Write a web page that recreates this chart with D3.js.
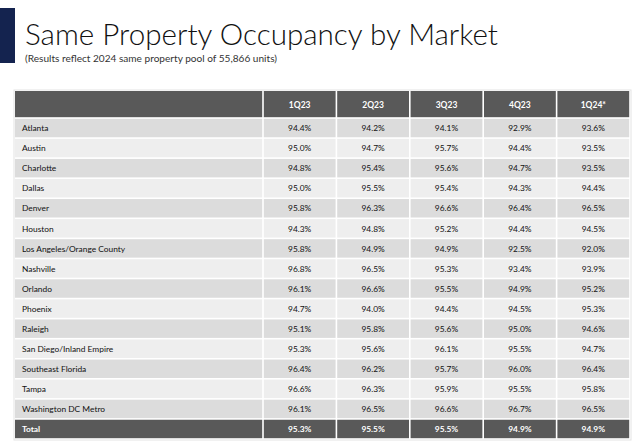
<!DOCTYPE html>
<html>
<head>
<meta charset="utf-8">
<script src="https://cdn.jsdelivr.net/npm/d3@7"></script>
<style>
  html, body { margin: 0; padding: 0; background: #fff; }
  svg { display: block; }
</style>
</head>
<body>
<svg id="chart" width="640" height="447"></svg>
<script>
const titleText = "Same Property Occupancy by Market";
const subtitleText = "(Results reflect 2024 same property pool of 55,866 units)";
const quarters = ["1Q23", "2Q23", "3Q23", "4Q23", "1Q24*"];
const markets = ["Atlanta", "Austin", "Charlotte", "Dallas", "Denver", "Houston",
  "Los Angeles/Orange County", "Nashville", "Orlando", "Phoenix", "Raleigh",
  "San Diego/Inland Empire", "Southeast Florida", "Tampa", "Washington DC Metro"];
const q1_23 = [94.4, 95.0, 94.8, 95.0, 95.8, 94.3, 95.8, 96.8, 96.1, 94.7, 95.1, 95.3, 96.4, 96.6, 96.1];
const q2_23 = [94.2, 94.7, 95.4, 95.5, 96.3, 94.8, 94.9, 96.5, 96.6, 94.0, 95.8, 95.6, 96.2, 96.3, 96.5];
const q3_23 = [94.1, 95.7, 95.6, 95.4, 96.6, 95.2, 94.9, 95.3, 95.5, 94.4, 95.6, 96.1, 95.7, 95.9, 96.6];
const q4_23 = [92.9, 94.4, 94.7, 94.3, 96.4, 94.4, 92.5, 93.4, 94.9, 94.5, 95.0, 95.5, 96.0, 95.5, 96.7];
const q1_24 = [93.6, 93.5, 93.5, 94.4, 96.5, 94.5, 92.0, 93.9, 95.2, 95.3, 94.6, 94.7, 96.4, 95.8, 96.5];
const totalLabel = "Total";
const totals = [95.3, 95.5, 95.5, 94.9, 94.9];

const series = [q1_23, q2_23, q3_23, q4_23, q1_24];
const rows = markets.map((m, i) => ({ label: m, values: series.map(s => s[i]), total: false }));
rows.push({ label: totalLabel, values: totals, total: true });

const svg = d3.select("#chart");
const font = "Lato, 'Open Sans', sans-serif";

// Accent bar
svg.append("rect").attr("x", 0).attr("y", 8).attr("width", 15).attr("height", 55).attr("fill", "#14234f");

// Title
svg.append("text").attr("x", 25).attr("y", 45)
  .attr("font-family", font).attr("font-weight", 300).attr("font-size", 30)
  .attr("fill", "#111").attr("textLength", 473).attr("lengthAdjust", "spacingAndGlyphs")
  .text(titleText);
svg.append("text").attr("x", 25).attr("y", 62)
  .attr("font-family", font).attr("font-size", 8.6)
  .attr("fill", "#333").attr("textLength", 252).attr("lengthAdjust", "spacingAndGlyphs")
  .text(subtitleText);

// Table geometry
const left = 15, labelRight = 263, right = 630;
const headTop = 91, headBottom = 118, bottom = 439;
const x = d3.scaleBand().domain(quarters).range([labelRight, right]).paddingInner(0);
const y = d3.scaleBand().domain(rows.map(r => r.label)).range([headBottom, bottom]).paddingInner(0);
const gap = 0.8;

// light outline/shadow
svg.append("rect").attr("x", left - 1).attr("y", headTop - 1)
  .attr("width", right - left + 2).attr("height", bottom - headTop + 2)
  .attr("fill", "none").attr("stroke", "#e4e4e4").attr("stroke-width", 1);

const dark = "#595959";
// Header
const head = svg.append("g");
head.append("rect").attr("x", left).attr("y", headTop)
  .attr("width", labelRight - left - gap).attr("height", headBottom - headTop - gap).attr("fill", dark);
head.selectAll("rect.h").data(quarters).join("rect").attr("class", "h")
  .attr("x", d => x(d) + gap).attr("y", headTop)
  .attr("width", x.bandwidth() - 2 * gap).attr("height", headBottom - headTop - gap)
  .attr("fill", dark);
head.selectAll("text").data(quarters).join("text")
  .attr("x", d => x(d) + x.bandwidth() / 2).attr("y", (headTop + headBottom) / 2 + 3.5)
  .attr("text-anchor", "middle").attr("font-family", font).attr("font-weight", 700)
  .attr("font-size", 8.5).attr("fill", "#fff").text(d => d);

// Body rows
const rowG = svg.selectAll("g.row").data(rows).join("g").attr("class", "row")
  .attr("transform", d => `translate(0,${y(d.label)})`);
const fillFor = (d, i) => d.total ? dark : (i % 2 === 0 ? "#dcdcdc" : "#eeeeee");
rowG.append("rect").attr("x", left).attr("y", gap)
  .attr("width", labelRight - left - gap).attr("height", y.bandwidth() - 2 * gap)
  .attr("fill", fillFor);
rowG.append("text").attr("x", 22).attr("y", y.bandwidth() / 2 + 3.2)
  .attr("font-family", font).attr("font-size", 8.4)
  .attr("font-weight", d => d.total ? 700 : 400)
  .attr("fill", d => d.total ? "#fff" : "#111").text(d => d.label);
rowG.each(function(d, i) {
  const g = d3.select(this);
  const cells = quarters.map((q, j) => ({ q, v: d.values[j] }));
  g.selectAll("rect.c").data(cells).join("rect").attr("class", "c")
    .attr("x", c => x(c.q) + gap).attr("y", gap)
    .attr("width", x.bandwidth() - 2 * gap).attr("height", y.bandwidth() - 2 * gap)
    .attr("fill", fillFor(d, i));
  g.selectAll("text.v").data(cells).join("text").attr("class", "v")
    .attr("x", c => x(c.q) + x.bandwidth() / 2).attr("y", y.bandwidth() / 2 + 3.2)
    .attr("text-anchor", "middle").attr("font-family", font).attr("font-size", 8.4)
    .attr("font-weight", d.total ? 700 : 400)
    .attr("fill", d.total ? "#fff" : "#111").text(c => c.v.toFixed(1) + "%");
});
</script>
</body>
</html>
